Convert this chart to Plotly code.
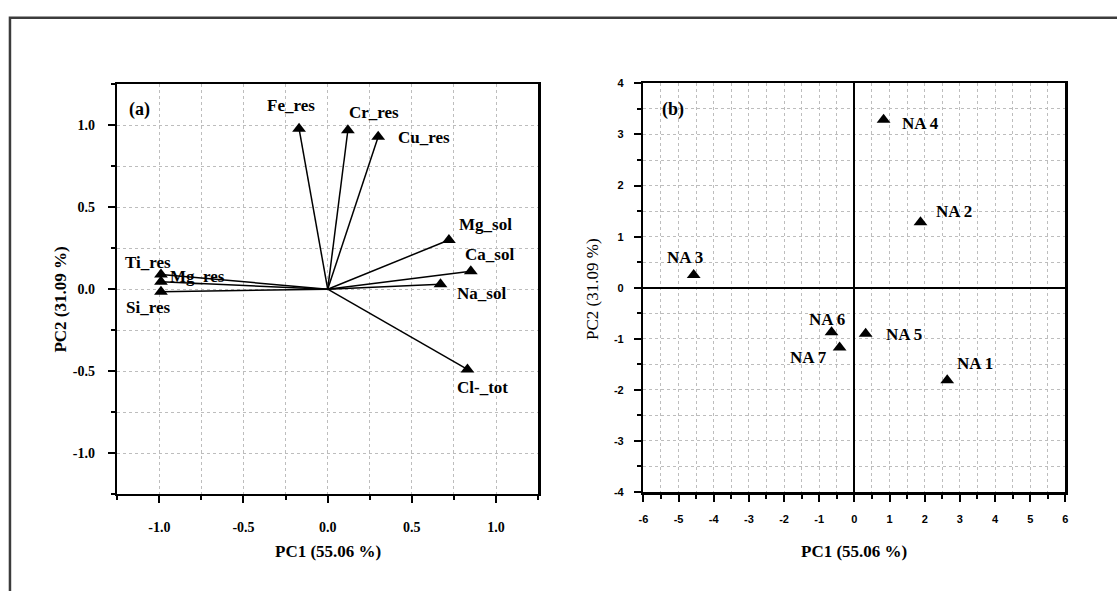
import plotly.graph_objects as go

# ---------------- data ----------------
# Panel (a): loadings
a_vars = ["Fe_res", "Cr_res", "Cu_res", "Mg_sol", "Ca_sol", "Na_sol", "Cl-_tot", "Ti_res", "Mg_res", "Si_res"]
a_pc1 = [-0.17, 0.12, 0.30, 0.72, 0.85, 0.67, 0.83, -0.99, -0.99, -0.99]
a_pc2 = [0.98, 0.97, 0.93, 0.30, 0.11, 0.03, -0.49, 0.09, 0.045, -0.015]

# Panel (b): scores
b_names = ["NA 1", "NA 2", "NA 3", "NA 4", "NA 5", "NA 6", "NA 7"]
b_pc1 = [2.64, 1.88, -4.57, 0.83, 0.32, -0.65, -0.42]
b_pc2 = [-1.81, 1.28, 0.25, 3.29, -0.90, -0.87, -1.17]

# tick labels
a_tickvals = [-1.0, -0.5, 0.0, 0.5, 1.0]
a_ticktext = ["-1.0", "-0.5", "0.0", "0.5", "1.0"]
b_xtickvals = [-6, -5, -4, -3, -2, -1, 0, 1, 2, 3, 4, 5, 6]
b_xticktext = ["-6", "-5", "-4", "-3", "-2", "-1", "0", "1", "2", "3", "4", "5", "6"]
b_ytickvals = [-4, -3, -2, -1, 0, 1, 2, 3, 4]
b_yticktext = ["-4", "-3", "-2", "-1", "0", "1", "2", "3", "4"]

x_title = "PC1 (55.06 %)"
y_title = "PC2 (31.09 %)"

# ---------------- styles / label offsets (screen px: dx right, dy down) ----------------
a_label_off = [(-8, -23), (26, -18), (46, 1), (37, -16), (19, -17), (41, 9), (15, 18), (-13, -12), (37, -5), (-13, 16)]
b_label_off = [(28, -17), (34, -11), (-9, -17), (37, 4), (38, 1), (-5, -13), (-31, 10)]

W, H = 1120, 597
SERIF = "Liberation Serif"

def px_x(p):
    return p / W

def px_y(p):
    return 1 - p / H

fig = go.Figure()

# loading vectors
for name, x, y in zip(a_vars, a_pc1, a_pc2):
    fig.add_trace(go.Scatter(x=[0, x], y=[0, y], mode="lines",
                             line=dict(color="black", width=1.5),
                             xaxis="x", yaxis="y", showlegend=False, hoverinfo="skip"))
fig.add_trace(go.Scatter(x=a_pc1, y=a_pc2, mode="markers", text=a_vars,
                         marker=dict(symbol="triangle-up", size=12, color="black"),
                         xaxis="x", yaxis="y", showlegend=False))
fig.add_trace(go.Scatter(x=b_pc1, y=b_pc2, mode="markers", text=b_names,
                         marker=dict(symbol="triangle-up", size=12, color="black"),
                         xaxis="x2", yaxis="y2", showlegend=False))

annotations = []
for name, x, y, (dx, dy) in zip(a_vars, a_pc1, a_pc2, a_label_off):
    annotations.append(dict(x=x, y=y, xref="x", yref="y", text=name, showarrow=False,
                            xshift=dx, yshift=-dy, xanchor="center", yanchor="middle",
                            font=dict(family=SERIF, size=17, color="black", weight="bold")))
for name, x, y, (dx, dy) in zip(b_names, b_pc1, b_pc2, b_label_off):
    annotations.append(dict(x=x, y=y, xref="x2", yref="y2", text=name, showarrow=False,
                            xshift=dx, yshift=-dy, xanchor="center", yanchor="middle",
                            font=dict(family=SERIF, size=17, color="black", weight="bold")))

# panel tags
annotations.append(dict(x=px_x(135), y=px_y(106), xref="paper", yref="paper", text="(a)",
                        showarrow=False, xanchor="center", yanchor="middle",
                        font=dict(family=SERIF, size=18, color="black", weight="bold")))
annotations.append(dict(x=px_x(673), y=px_y(106), xref="paper", yref="paper", text="(b)",
                        showarrow=False, xanchor="center", yanchor="middle",
                        font=dict(family=SERIF, size=18, color="black", weight="bold")))
# axis titles
for cx in (325, 855):
    annotations.append(dict(x=px_x(cx), y=px_y(557), xref="paper", yref="paper", text=x_title,
                            showarrow=False, xanchor="center", yanchor="middle",
                            font=dict(family=SERIF, size=17, color="black", weight="bold")))
annotations.append(dict(x=px_x(56), y=px_y(300), xref="paper", yref="paper", text=y_title,
                        showarrow=False, textangle=-90, xanchor="center", yanchor="middle",
                        font=dict(family=SERIF, size=17, color="black", weight="bold")))
annotations.append(dict(x=px_x(591), y=px_y(289), xref="paper", yref="paper", text=y_title,
                        showarrow=False, textangle=-90, xanchor="center", yanchor="middle",
                        font=dict(family=SERIF, size=17, color="black")))

grid_col = "#bdbdbd"
a_dom_x = [px_x(113), px_x(537)]
a_dom_y = [px_y(498), px_y(80)]
b_dom_x = [px_x(643), px_x(1068)]
b_dom_y = [px_y(496), px_y(79)]

def main_axis(domain, rng, tickvals, ticktext, dtick_minor, tickfont, zeroline, standoff):
    return dict(domain=domain, range=rng, tickmode="array", tickvals=tickvals, ticktext=ticktext,
                showline=True, linecolor="black", linewidth=2.5, mirror=True,
                ticks="outside", ticklen=7, tickwidth=2, tickcolor="black",
                tickfont=tickfont, ticklabelstandoff=standoff,
                showgrid=True, gridcolor=grid_col, griddash="dot", gridwidth=1,
                zeroline=zeroline, zerolinecolor="black", zerolinewidth=2,
                minor=dict(dtick=dtick_minor, ticks="outside", ticklen=4, tickwidth=2,
                           tickcolor="black", showgrid=True, gridcolor=grid_col,
                           griddash="dot", gridwidth=1),
                fixedrange=True)

def mirror_axis(rng, tickvals, dtick_minor, overlaying, anchor, side):
    return dict(range=rng, overlaying=overlaying, anchor=anchor, side=side,
                tickmode="array", tickvals=tickvals, showticklabels=False,
                ticks="inside", ticklen=7, tickwidth=2, tickcolor="black",
                showline=False, showgrid=False, zeroline=False,
                minor=dict(dtick=dtick_minor, ticks="inside", ticklen=4, tickwidth=2,
                           tickcolor="black", showgrid=False),
                fixedrange=True)

a_font = dict(family=SERIF, size=14, color="black", weight="bold")
b_font = dict(family="Liberation Sans", size=11, color="black", weight="bold")

fig.update_layout(
    width=W, height=H,
    margin=dict(l=0, r=0, t=0, b=0),
    paper_bgcolor="white", plot_bgcolor="white",
    showlegend=False,
    xaxis=dict(anchor="y", **main_axis(a_dom_x, [-1.25, 1.25], a_tickvals, a_ticktext, 0.25, a_font, False, 12)),
    yaxis=dict(anchor="x", **main_axis(a_dom_y, [-1.25, 1.25], a_tickvals, a_ticktext, 0.25, a_font, False, 10)),
    xaxis2=dict(anchor="y2", **main_axis(b_dom_x, [-6, 6], b_xtickvals, b_xticktext, 0.5, b_font, True, 8)),
    yaxis2=dict(anchor="x2", **main_axis(b_dom_y, [-4, 4], b_ytickvals, b_yticktext, 0.5, b_font, True, 8)),
    xaxis3=mirror_axis([-1.25, 1.25], a_tickvals, 0.25, "x", "y", "top"),
    yaxis3=mirror_axis([-1.25, 1.25], a_tickvals, 0.25, "y", "x", "right"),
    xaxis4=mirror_axis([-6, 6], b_xtickvals, 0.5, "x2", "y2", "top"),
    yaxis4=mirror_axis([-4, 4], b_ytickvals, 0.5, "y2", "x2", "right"),
    annotations=annotations,
    shapes=[dict(type="path", xref="paper", yref="paper",
                 path=f"M {px_x(5)} 0 L {px_x(5)} {px_y(12)} L 1 {px_y(12)}",
                 line=dict(color="#3c3c3c", width=2.5))],
)

fig.write_html("out.html",
               config={"displayModeBar": False, "staticPlot": True},
               post_script="document.body.style.margin='0';document.body.style.overflow='hidden';")
